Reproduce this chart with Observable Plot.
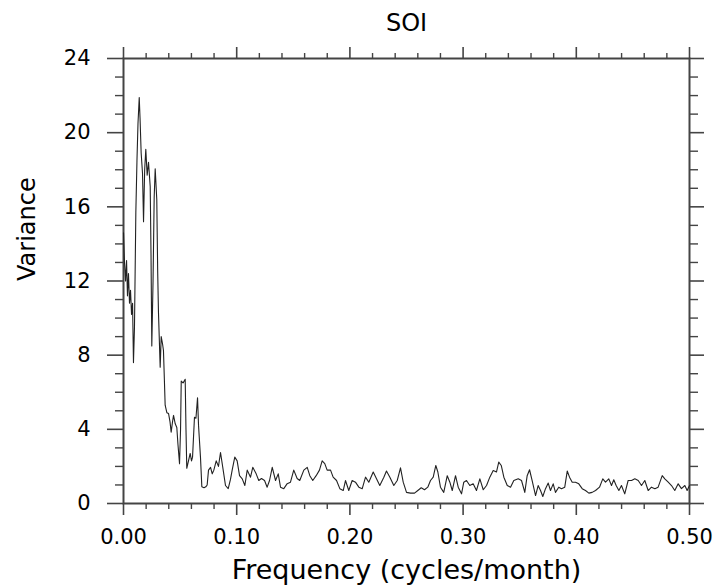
<!DOCTYPE html>
<html>
<head>
<meta charset="utf-8">
<script src="https://cdn.jsdelivr.net/npm/d3@7"></script>
<script src="https://cdn.jsdelivr.net/npm/@observablehq/plot@0.6"></script>
<style>
  html, body { margin: 0; padding: 0; background: #fff; }
</style>
</head>
<body>
<div id="chart"></div>
<script>
const title = "SOI";
const xLabel = "Frequency (cycles/month)";
const yLabel = "Variance";

const xMajor = [0, 0.1, 0.2, 0.3, 0.4, 0.5];
const xTickLabels = ["0.00", "0.10", "0.20", "0.30", "0.40", "0.50"];
const xMinor = [0.02, 0.04, 0.06, 0.08, 0.12, 0.14, 0.16, 0.18, 0.22, 0.24, 0.26, 0.28,
                0.32, 0.34, 0.36, 0.38, 0.42, 0.44, 0.46, 0.48];
const yMajor = [0, 4, 8, 12, 16, 20, 24];
const yTickLabels = ["0", "4", "8", "12", "16", "20", "24"];
const yMinor = [1, 2, 3, 5, 6, 7, 9, 10, 11, 13, 14, 15, 17, 18, 19, 21, 22, 23];

const freq = [
  0.0000, 0.0009, 0.0018, 0.0027, 0.0035, 0.0044, 0.0053, 0.0062, 0.0071, 0.0080,
  0.0088, 0.0097, 0.0109, 0.0119, 0.0128, 0.0139, 0.0146, 0.0156, 0.0168, 0.0177,
  0.0187, 0.0197, 0.0209, 0.0221, 0.0236, 0.0243, 0.0250, 0.0261, 0.0271, 0.0280,
  0.0294, 0.0302, 0.0309, 0.0324, 0.0333, 0.0345, 0.0353, 0.0362, 0.0368, 0.0383,
  0.0398, 0.0411, 0.0421, 0.0433, 0.0442, 0.0457, 0.0471, 0.0481, 0.0495, 0.0504,
  0.0510, 0.0526, 0.0545, 0.0552, 0.0559, 0.0574, 0.0589, 0.0601, 0.0610, 0.0627,
  0.0640, 0.0654, 0.0663, 0.0669, 0.0680, 0.0692, 0.0711, 0.0727, 0.0739, 0.0751,
  0.0769, 0.0784, 0.0798, 0.0819, 0.0839, 0.0857, 0.0877, 0.0901, 0.0925, 0.0945,
  0.0960, 0.0983, 0.1004, 0.1025, 0.1049, 0.1072, 0.1093, 0.1122, 0.1142, 0.1172,
  0.1195, 0.1219, 0.1246, 0.1269, 0.1290, 0.1314, 0.1343, 0.1367, 0.1387, 0.1416,
  0.1446, 0.1475, 0.1504, 0.1534, 0.1557, 0.1593, 0.1623, 0.1646, 0.1672, 0.1702,
  0.1731, 0.1755, 0.1778, 0.1799, 0.1829, 0.1852, 0.1882, 0.1911, 0.1941, 0.1961,
  0.1990, 0.2020, 0.2049, 0.2079, 0.2109, 0.2138, 0.2167, 0.2206, 0.2235, 0.2264,
  0.2300, 0.2323, 0.2353, 0.2388, 0.2418, 0.2447, 0.2471, 0.2500, 0.2535, 0.2571,
  0.2600, 0.2630, 0.2659, 0.2688, 0.2712, 0.2736, 0.2759, 0.2777, 0.2800, 0.2829,
  0.2860, 0.2883, 0.2904, 0.2933, 0.2957, 0.2986, 0.3006, 0.3030, 0.3059, 0.3089,
  0.3118, 0.3148, 0.3178, 0.3207, 0.3236, 0.3266, 0.3295, 0.3315, 0.3337, 0.3360,
  0.3390, 0.3419, 0.3448, 0.3487, 0.3516, 0.3545, 0.3566, 0.3587, 0.3610, 0.3640,
  0.3663, 0.3684, 0.3704, 0.3728, 0.3752, 0.3772, 0.3796, 0.3816, 0.3845, 0.3869,
  0.3898, 0.3920, 0.3940, 0.3964, 0.3993, 0.4022, 0.4052, 0.4081, 0.4111, 0.4140,
  0.4170, 0.4205, 0.4234, 0.4258, 0.4287, 0.4311, 0.4331, 0.4352, 0.4376, 0.4399,
  0.4428, 0.4458, 0.4488, 0.4517, 0.4547, 0.4576, 0.4605, 0.4635, 0.4664, 0.4694,
  0.4723, 0.4759, 0.4782, 0.4812, 0.4841, 0.4870, 0.4900, 0.4929, 0.4959, 0.4979,
  0.5000
];

const variance = [
  14.6, 13.0, 12.0, 13.1, 11.2, 12.4, 10.8, 11.5, 10.2, 10.8,
  7.6, 9.5, 15.7, 18.5, 20.5, 21.9, 20.8, 18.9, 17.8, 15.2,
  18.0, 19.1, 17.7, 18.4, 17.1, 13.5, 8.5, 12.0, 16.5, 18.05,
  16.4, 12.5, 10.3, 7.35, 9.0, 8.6, 8.25, 6.5, 5.3, 4.9,
  4.85, 4.4, 3.85, 4.4, 4.75, 4.3, 4.1, 3.2, 2.15, 4.0,
  6.6, 6.5, 6.7, 4.0, 1.9, 2.3, 2.7, 2.3, 2.5, 4.65,
  4.6, 5.7, 4.2, 3.6, 2.5, 0.9, 0.85, 0.9, 1.0, 1.8,
  1.95, 1.6, 1.8, 2.3, 2.0, 2.75, 1.95, 0.97, 0.8, 1.3,
  1.8, 2.5, 2.3, 1.5, 1.33, 0.97, 1.8, 1.42, 1.95, 1.6,
  1.24, 1.35, 1.24, 0.88, 1.24, 1.95, 1.24, 1.6, 0.88, 0.8,
  1.07, 1.15, 1.8, 1.35, 1.24, 1.8, 1.95, 1.5, 1.24, 1.5,
  1.8, 2.3, 2.15, 1.8, 1.8, 1.42, 1.24, 0.8, 0.7, 1.24,
  0.7, 1.24, 1.15, 0.88, 0.8, 1.42, 1.15, 1.7, 1.33, 0.97,
  1.42, 1.75, 1.42, 0.97, 1.24, 1.92, 1.15, 0.6, 0.56, 0.56,
  0.7, 0.85, 0.74, 0.88, 1.24, 1.42, 2.05, 1.7, 0.88, 0.6,
  1.5, 1.15, 0.7, 1.5, 0.88, 0.52, 1.15, 1.24, 0.97, 1.06,
  0.7, 1.33, 0.74, 0.97, 1.42, 1.78, 1.7, 2.23, 2.05, 1.42,
  0.97, 0.88, 1.24, 1.33, 1.24, 0.6, 1.5, 1.82, 1.24, 0.43,
  0.97, 0.7, 0.38, 0.8, 1.1, 0.7, 1.06, 0.6, 0.88, 0.8,
  0.88, 1.75, 1.42, 1.15, 1.15, 1.06, 0.8, 0.7, 0.56, 0.6,
  0.7, 0.88, 1.33, 1.15, 1.33, 0.97, 1.28, 0.97, 0.7, 0.97,
  0.52, 1.24, 1.24, 1.33, 1.24, 0.97, 1.24, 0.7, 0.88, 0.8,
  0.88, 1.5, 1.33, 1.15, 0.97, 0.7, 1.06, 0.8, 0.97, 0.7,
  0.97
];

const data = freq.map((f, i) => ({ f, v: variance[i] }));
const axisColor = "#444";
const blank = () => "";

const chart = Plot.plot({
  width: 720,
  height: 586,
  marginLeft: 123,
  marginRight: 31,
  marginTop: 58,
  marginBottom: 83,
  x: { domain: [0, 0.5] },
  y: { domain: [0, 24] },
  style: { fontFamily: "DejaVu Sans", fontSize: "21px", background: "#fff", color: "#000" },
  marks: [
    // minor ticks
    Plot.axisX({ anchor: "bottom", ticks: xMinor, tickSize: 6, tickFormat: blank, label: null, stroke: axisColor, strokeWidth: 1.4 }),
    Plot.axisX({ anchor: "top", ticks: xMinor, tickSize: 6, tickFormat: blank, label: null, stroke: axisColor, strokeWidth: 1.4 }),
    Plot.axisY({ anchor: "left", ticks: yMinor, tickSize: 8, tickFormat: blank, label: null, stroke: axisColor, strokeWidth: 1.4 }),
    Plot.axisY({ anchor: "right", ticks: yMinor, tickSize: 8, tickFormat: blank, label: null, stroke: axisColor, strokeWidth: 1.4 }),
    // major ticks
    Plot.axisX({ anchor: "bottom", ticks: xMajor, tickSize: 12, tickPadding: 14,
      tickFormat: d => xTickLabels[xMajor.indexOf(d)], label: null, stroke: axisColor, strokeWidth: 1.6, fontSize: 21, fill: "#000" }),
    Plot.axisX({ anchor: "top", ticks: xMajor, tickSize: 12, tickFormat: blank, label: null, stroke: axisColor, strokeWidth: 1.6 }),
    Plot.axisY({ anchor: "left", ticks: yMajor, tickSize: 16, tickPadding: 17,
      tickFormat: d => yTickLabels[yMajor.indexOf(d)], label: null, stroke: axisColor, strokeWidth: 1.6, fontSize: 21, fill: "#000" }),
    Plot.axisY({ anchor: "right", ticks: yMajor, tickSize: 14, tickFormat: blank, label: null, stroke: axisColor, strokeWidth: 1.6 }),
    Plot.frame({ stroke: axisColor, strokeWidth: 2 }),
    // spectrum
    Plot.line(data, { x: "f", y: "v", stroke: "#222", strokeWidth: 1.1, curve: "linear" }),
    // labels
    Plot.text([title], { frameAnchor: "top", dy: -45, fontSize: 24, fill: "#000" }),
    Plot.text([xLabel], { frameAnchor: "bottom", dy: 75, lineAnchor: "bottom", fontSize: 27, fill: "#000" }),
    Plot.text([yLabel], { frameAnchor: "left", dx: -96, rotate: -90, fontSize: 24, fill: "#000" })
  ]
});

document.getElementById("chart").appendChild(chart);
</script>
</body>
</html>
